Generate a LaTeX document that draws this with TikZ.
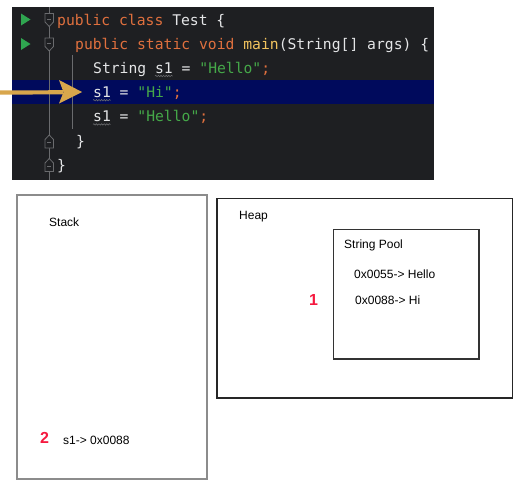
\documentclass[tikz,border=0pt]{standalone}
\usepackage{fontspec}
\setmainfont{Liberation Sans}
\setmonofont{DejaVu Sans Mono}
\usetikzlibrary{decorations.pathmorphing}
\definecolor{panelbg}{HTML}{1E1F22}
\definecolor{hlrow}{HTML}{000A5C}
\definecolor{kwc}{HTML}{E0703E}
\definecolor{plainc}{HTML}{E4E5E7}
\definecolor{fnc}{HTML}{F2C35E}
\definecolor{strc}{HTML}{45A849}
\definecolor{runc}{HTML}{2FA550}
\definecolor{gutc}{HTML}{6A6B6E}
\definecolor{arrowc}{HTML}{D8A64C}
\definecolor{numc}{HTML}{F5193F}
\tikzset{
  codeline/.style={anchor=base west, inner sep=0pt, text=plainc,
    font=\ttfamily\fontsize{14.7}{17}\selectfont},
  lbl/.style={anchor=base west, inner sep=0pt, font=\fontsize{12}{14}\selectfont},
  numlbl/.style={anchor=base, inner sep=0pt, text=numc, font=\bfseries\fontsize{16}{18}\selectfont},
  squig/.style={draw=gutc, line width=0.6pt, decorate,
    decoration={snake, amplitude=0.7pt, segment length=2.6pt}},
  foldicon/.style={draw=gutc, fill=panelbg, line width=0.8pt},
  membox/.style={draw=#1, line width=1.1pt}
}
\begin{document}
\begin{tikzpicture}[x=1pt,y=-1pt]
\useasboundingbox (0,0) rectangle (528,488);
% code panel
\fill[panelbg] (12,7) rectangle (434,180);
\fill[hlrow] (12,80) rectangle (434,104);
% gutter lines
\draw[gutc, line width=0.7pt] (49,7) -- (49,180);
\draw[gutc, line width=0.6pt] (72,55) -- (72,129);
% run icons
\fill[runc] (21,13.5) -- (30.5,19.5) -- (21,25.5) -- cycle;
\fill[runc] (21,38) -- (30.5,44) -- (21,50) -- cycle;
% fold icons (down)
\draw[foldicon] (45,13.5) -- (53.5,13.5) -- (53.5,22) -- (49.25,26.5) -- (45,22) -- cycle;
\draw[gutc, line width=0.8pt] (47.3,19) -- (51.2,19);
\draw[foldicon] (45,38) -- (53.5,38) -- (53.5,46.5) -- (49.25,51) -- (45,46.5) -- cycle;
\draw[gutc, line width=0.8pt] (47.3,43.5) -- (51.2,43.5);
% fold icons (up)
\draw[foldicon] (45,148) -- (53.5,148) -- (53.5,139.5) -- (49.25,135) -- (45,139.5) -- cycle;
\draw[gutc, line width=0.8pt] (47.3,142.5) -- (51.2,142.5);
\draw[foldicon] (45,171.5) -- (53.5,171.5) -- (53.5,163) -- (49.25,158.5) -- (45,163) -- cycle;
\draw[gutc, line width=0.8pt] (47.3,166) -- (51.2,166);
% code text
\node[codeline] (l1) at (57,25) {\textcolor{kwc}{public class} Test \{};
\node[codeline] (l2) at (75,49) {\textcolor{kwc}{public static void} \textcolor{fnc}{main}(String[] args) \{};
\node[codeline] (l3) at (93,73.5) {String s1 = \textcolor{strc}{"Hello"}\textcolor{kwc}{;}};
\node[codeline] (l4) at (93,97.7) {s1 = \textcolor{strc}{"Hi"}\textcolor{kwc}{;}};
\node[codeline] (l5) at (93,121.9) {s1 = \textcolor{strc}{"Hello"}\textcolor{kwc}{;}};
\node[codeline] (l6) at (76,146) {\}};
\node[codeline] (l7) at (57,170) {\}};
% squiggles under s1
\draw[squig] (155,76) -- (172.5,76);
\draw[squig] (93,100.2) -- (110.5,100.2);
\draw[squig] (93,124.4) -- (110.5,124.4);
% execution arrow
\coordinate (arrtail) at (0,92.5);
\coordinate (arrtip) at (82,92);
\draw[arrowc, line width=4.2pt] (arrtail) -- (63,92.3);
\fill[arrowc] (arrtip) -- (59,80) -- (63.5,92.2) -- (59,103.5) -- cycle;
% memory boxes
\draw[membox=gray!90] (17,195) rectangle (207,479);
\node[lbl] (stack) at (49,226.5) {Stack};
\draw[membox=black!85] (217,198.5) rectangle (512.5,398);
\node[lbl] (heap) at (239,219.3) {Heap};
\draw[membox=black!80] (333.5,229.5) rectangle (479,359);
\node[lbl] (pool) at (344,248.3) {String Pool};
\node[lbl] (hello) at (354,278.3) {0x0055-> Hello};
\node[lbl] (hi) at (355,304.3) {0x0088-> Hi};
\node[numlbl] (one) at (313.5,305) {1};
\node[numlbl] (two) at (44.5,443.5) {2};
\node[lbl] (s1ref) at (63,444) {s1-> 0x0088};
\end{tikzpicture}
\end{document}
